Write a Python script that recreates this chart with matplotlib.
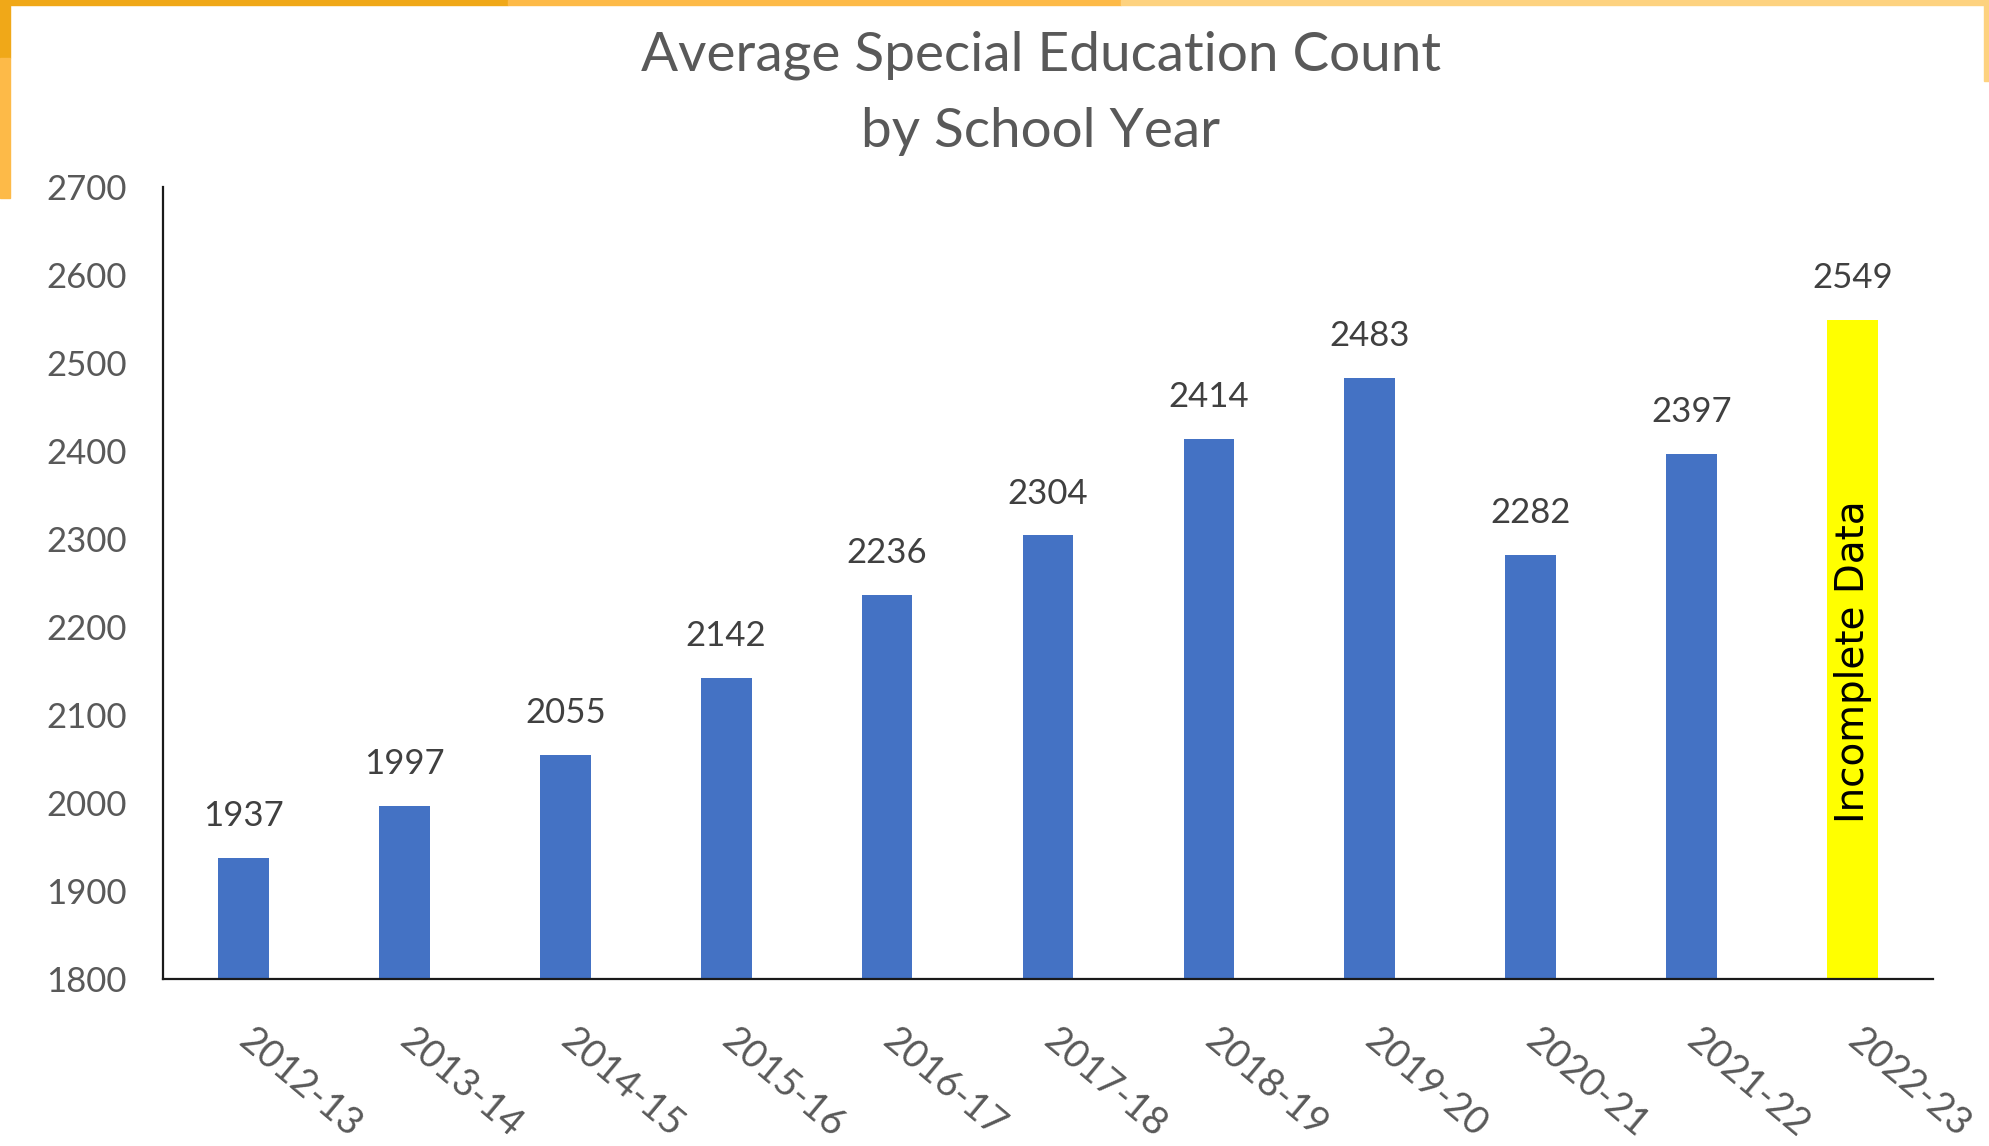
import matplotlib.pyplot as plt
from matplotlib.patches import Rectangle

years = ["2012-13", "2013-14", "2014-15", "2015-16", "2016-17", "2017-18",
         "2018-19", "2019-20", "2020-21", "2021-22", "2022-23"]
counts = [1937, 1997, 2055, 2142, 2236, 2304, 2414, 2483, 2282, 2397, 2549]
bar_colors = ["#4472C4"] * 10 + ["#FFFF00"]
yticks = [1800, 1900, 2000, 2100, 2200, 2300, 2400, 2500, 2600, 2700]

plt.rcParams['font.family'] = ['Lato', 'DejaVu Sans']

fig = plt.figure(figsize=(19.9, 11.46), dpi=100)
ax = fig.add_axes([163/1990, 1 - 979/1146, (1933-163)/1990, (979-187)/1146])

x = list(range(len(years)))
ax.bar(x, [c - 1800 for c in counts], bottom=1800, width=0.315, color=bar_colors)

for xi, c in zip(x, counts):
    ax.annotate(str(c), (xi, c), xytext=(0, 23), textcoords='offset points',
                ha='center', va='baseline', fontsize=25, color='#404040')

ax.text(x[-1], (1800 + counts[-1]) / 2 - 14, "Incomplete Data", rotation=90,
        ha='center', va='center', fontsize=28, color='black',
        family=['DejaVu Sans'])

ax.set_xlim(-0.5, len(years) - 0.5)
ax.set_ylim(1800, 2700)
ax.set_yticks(yticks)
ax.set_yticklabels([str(t) for t in yticks])
ax.set_xticks(x)
ax.set_xticklabels(years, rotation=-40, ha='left', va='center',
                   rotation_mode='anchor')
ax.tick_params(axis='y', length=0, pad=26, labelsize=25, labelcolor='#595959')
ax.tick_params(axis='x', length=0, pad=41, labelsize=27.5, labelcolor='#595959')

for s in ['top', 'right']:
    ax.spines[s].set_visible(False)
for s in ['left', 'bottom']:
    ax.spines[s].set_linewidth(1.6)
    ax.spines[s].set_color('#1a1a1a')

fig.text(0.5 + 46/1990, 1 - 55/1146, "Average Special Education Count",
         ha='center', va='center', fontsize=39.5, color='#595959')
fig.text(0.5 + 46/1990, 1 - 131/1146, "by School Year",
         ha='center', va='center', fontsize=39.5, color='#595959')

# orange frame bits from the screenshot
W, H = 1990, 1146
def strip(x0, y0, x1, y1, col):
    fig.patches.append(Rectangle((x0 / W, 1 - y1 / H), (x1 - x0) / W, (y1 - y0) / H,
                                 transform=fig.transFigure, color=col, zorder=5))

strip(0, 0, 508, 5, '#F0A818')
strip(508, 0, 1121, 5, '#FDBA48')
strip(1121, 0, 1990, 5, '#FDD27F')
strip(0, 0, 10, 58, '#F0A818')
strip(0, 58, 10, 198, '#FDBA48')
strip(1984, 0, 1990, 81, '#FDD27F')

fig.savefig('out.png', dpi=100)
